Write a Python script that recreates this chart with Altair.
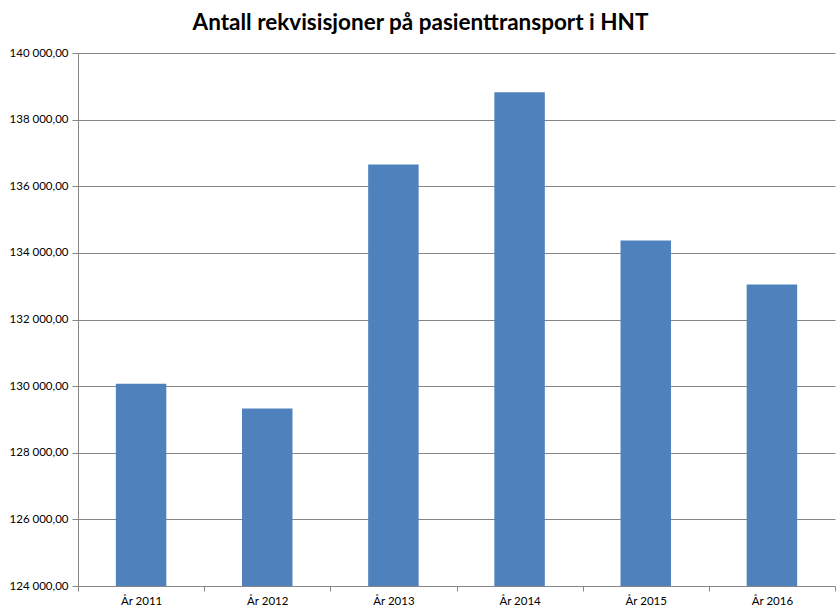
import altair as alt
import pandas as pd

years = ["År 2011", "År 2012", "År 2013", "År 2014", "År 2015", "År 2016"]
values = [130070, 129330, 136650, 138820, 134370, 133050]
y_ticks = [124000, 126000, 128000, 130000, 132000, 134000, 136000, 138000, 140000]

df = pd.DataFrame({"year": years, "value": values})

chart = alt.Chart(df).mark_bar(color="#4F81BD", clip=True,
                               width=alt.RelativeBandSize(0.4)).encode(
    x=alt.X("year:N", sort=years, title=None,
            scale=alt.Scale(paddingInner=0, paddingOuter=0),
            axis=alt.Axis(labelAngle=0, labelFont="Lato", labelFontSize=11.5,
                          labelColor="#000000", domainColor="#868686",
                          tickColor="#868686", tickSize=5, tickBand="extent",
                          labelPadding=4, grid=False)),
    y=alt.Y("value:Q", title=None,
            scale=alt.Scale(domain=[124000, 140000], nice=False, zero=False),
            axis=alt.Axis(values=y_ticks, labelFont="Lato", labelFontSize=11.5,
                          labelColor="#000000", domainColor="#868686",
                          tickColor="#868686", tickSize=6, gridColor="#868686",
                          gridWidth=1, labelPadding=4,
                          labelExpr="format(floor(datum.value/1000), 'd') + ' 000,00'")),
).properties(
    width=757,
    height=533,
    autosize=alt.AutoSizeParams(type="none"),
    padding={"left": 78, "top": 53, "right": 5, "bottom": 29},
    title=alt.TitleParams(
        "Antall rekvisisjoner på pasienttransport i HNT",
        font="Lato", fontSize=22.5, fontWeight="bold", color="#000000",
        anchor="middle", dx=-36, offset=20, dy=30, baseline="bottom"),
).configure_view(stroke=None)

chart.save("out.html", embed_options={"renderer": "svg", "actions": False})
